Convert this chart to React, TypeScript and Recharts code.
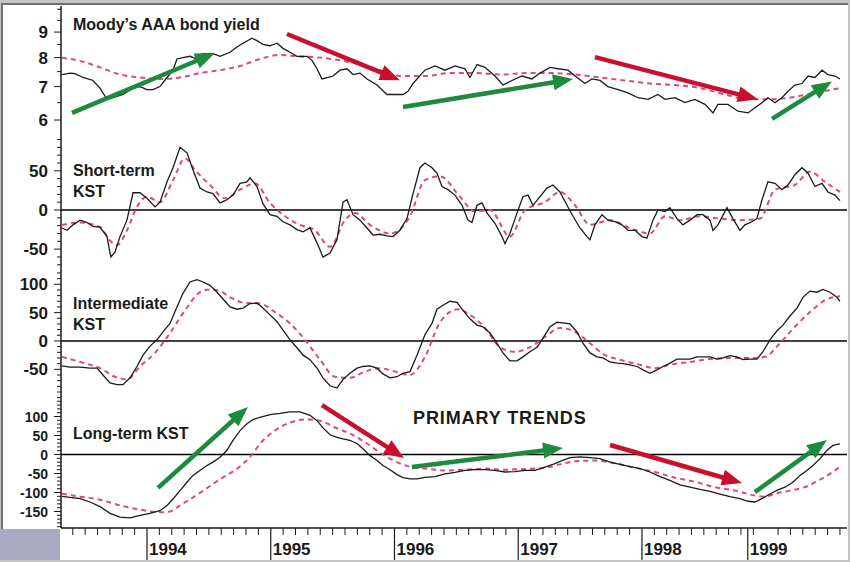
import React from 'react';
import { LineChart, Line, XAxis, YAxis, ReferenceLine } from 'recharts';

type Pt = [number, number];

// time axis in decimal years
const X_DOMAIN: [number, number] = [1993.305, 1999.657];
const YEAR_TICKS = [1994, 1995, 1996, 1997, 1998, 1998.855];
const YEAR_LABELS = ['1994', '1995', '1996', '1997', '1998', '1999'];

const YIELD_LABELS = [6, 7, 8, 9];
const SHORT_LABELS = [-50, 0, 50];
const INTER_LABELS = [-50, 0, 50, 100];
const LONG_LABELS = [-150, -100, -50, 0, 50, 100];

// Moody's AAA bond yield (%)
const yieldLine: Pt[] = [
  [1993.313, 7.4], [1993.378, 7.45], [1993.418, 7.43], [1993.483, 7.3], [1993.564, 7.2], [1993.62, 6.95],
  [1993.677, 6.6], [1993.725, 6.65], [1993.806, 6.75], [1993.887, 6.95], [1993.943, 7.0], [1994.0, 6.9],
  [1994.048, 6.9], [1994.105, 7.0], [1994.162, 7.3], [1994.21, 7.55], [1994.242, 7.95], [1994.291, 8.0],
  [1994.347, 8.05], [1994.404, 7.95], [1994.453, 8.15], [1994.533, 8.15], [1994.59, 8.05], [1994.671, 8.2],
  [1994.727, 8.4], [1994.776, 8.55], [1994.848, 8.75], [1994.889, 8.65], [1994.937, 8.5], [1994.994, 8.45],
  [1995.051, 8.55], [1995.099, 8.35], [1995.156, 8.2], [1995.212, 8.05], [1995.293, 8.05], [1995.333, 7.9],
  [1995.374, 7.6], [1995.414, 7.25], [1995.463, 7.3], [1995.503, 7.35], [1995.56, 7.55], [1995.616, 7.6],
  [1995.665, 7.4], [1995.721, 7.45], [1995.778, 7.25], [1995.859, 7.05], [1995.939, 6.75], [1996.02, 6.75],
  [1996.069, 6.75], [1996.109, 6.85], [1996.15, 7.1], [1996.246, 7.55], [1996.327, 7.7], [1996.408, 7.55],
  [1996.489, 7.7], [1996.57, 7.6], [1996.61, 7.3], [1996.667, 7.75], [1996.731, 7.65], [1996.812, 7.35],
  [1996.877, 7.05], [1996.95, 7.2], [1997.03, 7.35], [1997.111, 7.25], [1997.176, 7.45], [1997.257, 7.65],
  [1997.321, 7.6], [1997.402, 7.55], [1997.475, 7.3], [1997.539, 7.1], [1997.596, 7.25], [1997.661, 7.2],
  [1997.725, 7.0], [1997.806, 6.9], [1997.887, 6.8], [1997.968, 6.65], [1998.049, 6.6], [1998.129, 6.75],
  [1998.186, 6.6], [1998.267, 6.65], [1998.347, 6.5], [1998.428, 6.6], [1998.509, 6.45], [1998.574, 6.2],
  [1998.614, 6.45], [1998.695, 6.45], [1998.776, 6.25], [1998.857, 6.2], [1998.913, 6.35], [1998.97, 6.5],
  [1999.018, 6.65], [1999.075, 6.5], [1999.131, 6.65], [1999.18, 6.85], [1999.236, 7.05], [1999.293, 7.1],
  [1999.342, 7.35], [1999.398, 7.3], [1999.455, 7.55], [1999.503, 7.4], [1999.56, 7.35], [1999.6, 7.25],
];

const yieldAvg: Pt[] = [
  [1993.313, 8.0], [1993.483, 7.85], [1993.62, 7.65], [1993.782, 7.4], [1993.943, 7.3], [1994.105, 7.25],
  [1994.267, 7.3], [1994.428, 7.45], [1994.59, 7.55], [1994.752, 7.7], [1994.913, 7.95], [1995.075, 8.1],
  [1995.212, 8.05], [1995.398, 8.0], [1995.56, 7.9], [1995.721, 7.75], [1995.883, 7.55], [1996.044, 7.35],
  [1996.246, 7.35], [1996.449, 7.45], [1996.651, 7.45], [1996.853, 7.4], [1997.055, 7.45], [1997.257, 7.45],
  [1997.459, 7.4], [1997.661, 7.3], [1997.863, 7.2], [1998.065, 7.1], [1998.267, 7.05], [1998.469, 6.95],
  [1998.671, 6.75], [1998.873, 6.6], [1998.994, 6.6], [1999.196, 6.65], [1999.398, 6.8], [1999.6, 6.95],
];

const shortKst: Pt[] = [
  [1993.313, -23], [1993.354, -26], [1993.402, -19], [1993.459, -13], [1993.515, -16], [1993.564, -21],
  [1993.62, -22], [1993.677, -34], [1993.701, -55], [1993.709, -60], [1993.741, -54], [1993.782, -34],
  [1993.838, -13], [1993.887, 22], [1993.943, 22], [1994.0, 15], [1994.065, 4], [1994.105, 10],
  [1994.162, 36], [1994.21, 54], [1994.267, 80], [1994.323, 73], [1994.372, 51], [1994.428, 28],
  [1994.485, 23], [1994.533, 21], [1994.59, 9], [1994.646, 13], [1994.695, 19], [1994.752, 34],
  [1994.808, 36], [1994.832, 41], [1994.889, 30], [1994.937, 8], [1994.994, -6], [1995.051, -8],
  [1995.099, -15], [1995.156, -19], [1995.212, -25], [1995.261, -28], [1995.317, -23], [1995.374, -42],
  [1995.422, -60], [1995.479, -55], [1995.535, -38], [1995.584, 10], [1995.616, 13], [1995.665, -6],
  [1995.721, -13], [1995.778, -23], [1995.826, -32], [1995.883, -31], [1995.939, -33], [1995.988, -34],
  [1996.044, -26], [1996.101, -11], [1996.15, 21], [1996.206, 54], [1996.246, 60], [1996.303, 54],
  [1996.343, 47], [1996.384, 30], [1996.432, 26], [1996.489, 19], [1996.546, 6], [1996.594, -13],
  [1996.626, -16], [1996.667, 6], [1996.707, 9], [1996.748, -4], [1996.812, -17], [1996.869, -34],
  [1996.893, -43], [1996.933, -30], [1996.99, -4], [1997.038, 17], [1997.079, 19], [1997.119, 6],
  [1997.176, 17], [1997.232, 28], [1997.281, 32], [1997.337, 23], [1997.394, 6], [1997.443, -8],
  [1997.499, -23], [1997.556, -34], [1997.58, -38], [1997.62, -19], [1997.677, -6], [1997.725, -13],
  [1997.782, -15], [1997.838, -19], [1997.887, -26], [1997.943, -26], [1998.0, -34], [1998.04, -36],
  [1998.089, -13], [1998.129, 0], [1998.186, -2], [1998.226, 3], [1998.283, -11], [1998.331, -19],
  [1998.388, -13], [1998.444, -6], [1998.493, -6], [1998.55, -13], [1998.574, -26], [1998.614, -19],
  [1998.687, 3], [1998.735, -11], [1998.792, -26], [1998.832, -19], [1998.889, -15], [1998.929, -11],
  [1998.97, 13], [1999.018, 36], [1999.075, 34], [1999.131, 26], [1999.18, 32], [1999.236, 45],
  [1999.293, 54], [1999.342, 47], [1999.398, 30], [1999.455, 34], [1999.503, 23], [1999.56, 19],
  [1999.6, 12],
];

const shortAvg: Pt[] = [
  [1993.313, -19], [1993.459, -16], [1993.62, -22], [1993.701, -39], [1993.758, -45], [1993.838, -26],
  [1993.919, 4], [1994.0, 17], [1994.105, 10], [1994.21, 38], [1994.307, 66], [1994.388, 51],
  [1994.509, 32], [1994.63, 15], [1994.752, 26], [1994.873, 34], [1994.994, 9], [1995.115, -8],
  [1995.236, -19], [1995.358, -26], [1995.479, -47], [1995.6, -13], [1995.681, -4], [1995.802, -19],
  [1995.964, -30], [1996.125, -8], [1996.246, 38], [1996.368, 43], [1996.529, 17], [1996.651, -2],
  [1996.772, 0], [1996.933, -34], [1997.055, 0], [1997.216, 10], [1997.337, 23], [1997.459, 6],
  [1997.58, -19], [1997.742, -13], [1997.903, -23], [1998.065, -30], [1998.186, -8], [1998.307, -13],
  [1998.469, -8], [1998.63, -11], [1998.792, -13], [1998.954, -11], [1999.075, 26], [1999.236, 32],
  [1999.358, 49], [1999.479, 36], [1999.6, 23],
];

const interKst: Pt[] = [
  [1993.313, -44], [1993.378, -46], [1993.459, -46], [1993.539, -48], [1993.596, -48], [1993.644, -60],
  [1993.701, -74], [1993.758, -77], [1993.806, -77], [1993.863, -65], [1993.919, -45], [1993.968, -25],
  [1994.024, -9], [1994.081, 2], [1994.129, 16], [1994.186, 31], [1994.242, 60], [1994.291, 84],
  [1994.347, 104], [1994.404, 108], [1994.453, 104], [1994.509, 98], [1994.566, 86], [1994.614, 74],
  [1994.671, 60], [1994.727, 56], [1994.776, 58], [1994.832, 66], [1994.889, 67], [1994.937, 58],
  [1994.994, 46], [1995.051, 34], [1995.099, 19], [1995.156, 2], [1995.212, -12], [1995.261, -25],
  [1995.317, -33], [1995.374, -48], [1995.422, -65], [1995.479, -79], [1995.535, -83], [1995.584, -68],
  [1995.64, -57], [1995.697, -48], [1995.745, -45], [1995.802, -44], [1995.859, -48], [1995.907, -58],
  [1995.964, -65], [1996.02, -63], [1996.069, -57], [1996.125, -54], [1996.182, -25], [1996.246, 11],
  [1996.303, 31], [1996.343, 56], [1996.392, 63], [1996.449, 70], [1996.505, 68], [1996.554, 54],
  [1996.61, 39], [1996.667, 28], [1996.715, 25], [1996.772, 14], [1996.828, -4], [1996.877, -21],
  [1996.933, -35], [1996.99, -35], [1997.038, -28], [1997.095, -19], [1997.152, -11], [1997.2, 5],
  [1997.257, 25], [1997.313, 33], [1997.362, 32], [1997.418, 30], [1997.475, 16], [1997.523, -4],
  [1997.58, -21], [1997.636, -28], [1997.685, -30], [1997.742, -37], [1997.798, -39], [1997.847, -40],
  [1997.903, -42], [1997.96, -45], [1998.008, -51], [1998.065, -57], [1998.121, -51], [1998.17, -45],
  [1998.226, -39], [1998.283, -32], [1998.331, -32], [1998.388, -32], [1998.444, -28], [1998.493, -28],
  [1998.55, -28], [1998.606, -32], [1998.655, -30], [1998.711, -26], [1998.768, -28], [1998.816, -33],
  [1998.873, -32], [1998.929, -32], [1998.978, -19], [1999.034, 2], [1999.091, 18], [1999.139, 28],
  [1999.196, 44], [1999.253, 58], [1999.301, 77], [1999.358, 88], [1999.414, 86], [1999.463, 91],
  [1999.519, 86], [1999.576, 77], [1999.6, 70],
];

const interAvg: Pt[] = [
  [1993.313, -28], [1993.459, -37], [1993.62, -48], [1993.741, -63], [1993.838, -68], [1993.943, -45],
  [1994.065, -21], [1994.186, 14], [1994.307, 54], [1994.428, 86], [1994.509, 91], [1994.59, 88],
  [1994.671, 77], [1994.792, 67], [1994.913, 66], [1995.034, 51], [1995.156, 31], [1995.277, 2],
  [1995.398, -33], [1995.519, -63], [1995.64, -65], [1995.762, -54], [1995.883, -48], [1996.004, -54],
  [1996.125, -60], [1996.246, -28], [1996.368, 33], [1996.513, 56], [1996.61, 46], [1996.731, 23],
  [1996.853, -11], [1996.974, -19], [1997.095, -11], [1997.216, 7], [1997.337, 23], [1997.459, 16],
  [1997.58, -4], [1997.701, -25], [1997.822, -33], [1997.984, -42], [1998.105, -48], [1998.226, -42],
  [1998.388, -37], [1998.55, -32], [1998.711, -30], [1998.873, -30], [1998.994, -28], [1999.115, -4],
  [1999.236, 25], [1999.358, 51], [1999.479, 72], [1999.6, 79],
];

const longKst: Pt[] = [
  [1993.313, -110], [1993.378, -113], [1993.459, -116], [1993.539, -125], [1993.62, -137], [1993.701, -155],
  [1993.782, -165], [1993.863, -167], [1993.943, -160], [1994.024, -155], [1994.105, -148], [1994.162, -134],
  [1994.21, -117], [1994.267, -95], [1994.323, -73], [1994.372, -55], [1994.428, -42], [1994.485, -29],
  [1994.533, -20], [1994.59, -7], [1994.646, 11], [1994.695, 37], [1994.752, 63], [1994.808, 81],
  [1994.857, 92], [1994.913, 98], [1994.994, 105], [1995.075, 108], [1995.156, 112], [1995.236, 112],
  [1995.317, 103], [1995.374, 89], [1995.422, 70], [1995.479, 52], [1995.535, 45], [1995.584, 41],
  [1995.64, 37], [1995.697, 29], [1995.745, 15], [1995.802, -3], [1995.859, -16], [1995.907, -29],
  [1995.964, -40], [1996.02, -53], [1996.069, -61], [1996.125, -64], [1996.182, -64], [1996.246, -60],
  [1996.327, -58], [1996.408, -51], [1996.489, -47], [1996.57, -42], [1996.651, -40], [1996.731, -40],
  [1996.812, -42], [1996.893, -46], [1996.974, -45], [1997.055, -42], [1997.135, -42], [1997.216, -33],
  [1997.297, -24], [1997.354, -16], [1997.418, -8], [1997.499, -6], [1997.58, -8], [1997.661, -11],
  [1997.742, -20], [1997.822, -26], [1997.903, -32], [1997.984, -37], [1998.065, -46], [1998.146, -58],
  [1998.226, -68], [1998.307, -80], [1998.388, -86], [1998.469, -92], [1998.55, -97], [1998.63, -104],
  [1998.711, -111], [1998.792, -116], [1998.857, -123], [1998.913, -125], [1998.97, -116], [1999.034, -104],
  [1999.099, -93], [1999.156, -86], [1999.22, -73], [1999.277, -55], [1999.333, -42], [1999.382, -29],
  [1999.439, -11], [1999.495, 11], [1999.544, 24], [1999.6, 28],
];

const longAvg: Pt[] = [
  [1993.313, -103], [1993.459, -111], [1993.62, -119], [1993.782, -134], [1993.943, -145], [1994.105, -152],
  [1994.186, -150], [1994.267, -134], [1994.428, -101], [1994.59, -65], [1994.752, -31], [1994.832, -7],
  [1994.913, 28], [1995.034, 63], [1995.156, 84], [1995.277, 92], [1995.398, 89], [1995.519, 71],
  [1995.64, 55], [1995.762, 32], [1995.883, 5], [1996.004, -18], [1996.125, -32], [1996.246, -37],
  [1996.408, -42], [1996.57, -40], [1996.731, -37], [1996.893, -40], [1997.055, -38], [1997.216, -35],
  [1997.337, -26], [1997.459, -18], [1997.62, -16], [1997.782, -23], [1997.943, -35], [1998.105, -46],
  [1998.267, -61], [1998.428, -72], [1998.59, -86], [1998.752, -95], [1998.913, -108], [1998.994, -111],
  [1999.075, -103], [1999.196, -95], [1999.317, -86], [1999.439, -66], [1999.56, -42], [1999.6, -32],
];

type Arrow = { from: Pt; to: Pt; up: boolean };

const yieldArrows: Arrow[] = [
  { from: [1993.394, 6.2], to: [1994.55, 8.17], up: true },
  { from: [1995.131, 8.92], to: [1996.044, 7.21], up: false },
  { from: [1996.069, 6.37], to: [1997.443, 7.25], up: true },
  { from: [1997.62, 8.02], to: [1998.937, 6.6], up: false },
  { from: [1999.051, 6.03], to: [1999.535, 7.17], up: true },
];

const longArrows: Arrow[] = [
  { from: [1994.089, -88], to: [1994.816, 125], up: true },
  { from: [1995.414, 130], to: [1996.077, -9], up: false },
  { from: [1996.141, -33], to: [1997.362, 17], up: true },
  { from: [1997.742, 25], to: [1998.808, -75], up: false },
  { from: [1998.913, -99], to: [1999.495, 38], up: true },
];

const FONT = '"Liberation Sans", Arial, sans-serif';
const INK = '#1a1a1a';
const AVG_COLOR = '#dc4a78';
const UP_COLOR = '#1d8a3e';
const DOWN_COLOR = '#c8102e';

const rows = (pts: Pt[]) => pts.map(([t, v]) => ({ t, v }));

const steps = (lo: number, hi: number, step: number) => {
  const out: number[] = [];
  for (let v = lo; v <= hi + 1e-9; v += step) out.push(Math.round(v * 100) / 100);
  return out;
};

const minorYears = () => {
  const out: number[] = [];
  for (let y = 1993; y <= 1999; y++) {
    for (let k = 1; k < 10; k++) {
      const t = y + k / 10;
      if (t < X_DOMAIN[0] || t > X_DOMAIN[1]) continue;
      if (YEAR_TICKS.some((yt) => Math.abs(yt - t) < 0.04)) continue;
      out.push(t);
    }
  }
  return out;
};

const yTick = (labels: number[], fontSize: number) => (props: any) => {
  const { x, y, payload } = props;
  const major = labels.includes(payload.value);
  return (
    <g>
      <line x1={x - (major ? 7 : 4)} x2={x} y1={y} y2={y} stroke={INK} strokeWidth={1} />
      {major && (
        <text x={x - 13} y={y} dy="0.36em" textAnchor="end" fontFamily={FONT} fontWeight="bold"
          fontSize={fontSize} fill={INK}>
          {payload.value}
        </text>
      )}
    </g>
  );
};

const XTick = (props: any) => {
  const { x, y, payload } = props;
  const i = YEAR_TICKS.indexOf(payload.value);
  if (i < 0) return <line x1={x} x2={x} y1={y} y2={y + 7} stroke={INK} strokeWidth={1} />;
  return (
    <g>
      <line x1={x} x2={x} y1={y} y2={y + 32} stroke={INK} strokeWidth={1.2} />
      <text x={x + 2} y={y + 27} fontFamily={FONT} fontWeight="bold" fontSize={17} fill={INK}>
        {YEAR_LABELS[i]}
      </text>
    </g>
  );
};

const arrowShape = (color: string) => (props: any) => {
  const { x1, y1, x2, y2 } = props;
  const dx = x2 - x1;
  const dy = y2 - y1;
  const len = Math.hypot(dx, dy) || 1;
  const ux = dx / len;
  const uy = dy / len;
  const head = 20;
  const half = 8;
  const bx = x2 - ux * head;
  const by = y2 - uy * head;
  return (
    <g>
      <line x1={x1} y1={y1} x2={bx + ux * 2} y2={by + uy * 2} stroke={color} strokeWidth={4.5} />
      <polygon
        points={`${x2},${y2} ${bx - uy * half},${by + ux * half} ${bx + uy * half},${by - ux * half}`}
        fill={color}
      />
    </g>
  );
};

interface PanelProps {
  top: number;
  height: number;
  main: Pt[];
  avg: Pt[];
  yDomain: [number, number];
  yTicks: number[];
  yLabels: number[];
  fontSize?: number;
  log?: boolean;
  zero?: boolean;
  arrows?: Arrow[];
  xAxis?: boolean;
}

const Panel: React.FC<PanelProps> = ({
  top, height, main, avg, yDomain, yTicks, yLabels, fontSize = 17, log, zero, arrows = [], xAxis,
}) => (
  <div style={{ position: 'absolute', left: 0, top }}>
    <LineChart width={850} height={height} margin={{ top: 0, right: 3, bottom: 0, left: 0 }}>
      <XAxis
        type="number"
        dataKey="t"
        domain={X_DOMAIN}
        allowDataOverflow
        hide={!xAxis}
        height={xAxis ? 32 : 0}
        ticks={xAxis ? [...YEAR_TICKS, ...minorYears()] : undefined}
        interval={0}
        tick={xAxis ? XTick : false}
        tickLine={false}
        tickSize={0}
        tickMargin={0}
        axisLine={{ stroke: INK, strokeWidth: 1.5 }}
      />
      <YAxis
        type="number"
        width={61}
        scale={log ? 'log' : 'linear'}
        domain={yDomain}
        allowDataOverflow
        ticks={yTicks}
        interval={0}
        tick={yTick(yLabels, fontSize)}
        tickLine={false}
        tickSize={0}
        tickMargin={0}
        axisLine={{ stroke: INK, strokeWidth: 1.5 }}
      />
      {zero && <ReferenceLine y={0} stroke="#000" strokeWidth={1.5} />}
      <Line data={rows(avg)} dataKey="v" type="monotone" stroke={AVG_COLOR} strokeWidth={2}
        strokeDasharray="5 4" dot={false} isAnimationActive={false} />
      <Line data={rows(main)} dataKey="v" type="linear" stroke={INK} strokeWidth={1.3}
        dot={false} isAnimationActive={false} />
      {arrows.map((a, i) => (
        <ReferenceLine
          key={i}
          segment={[{ x: a.from[0], y: a.from[1] }, { x: a.to[0], y: a.to[1] }]}
          shape={arrowShape(a.up ? UP_COLOR : DOWN_COLOR)}
        />
      ))}
    </LineChart>
  </div>
);

const titleStyle = { fontFamily: FONT, fontWeight: 'bold' as const, fontSize: 16, fill: INK };

export default function App() {
  return (
    <div style={{ position: 'absolute', left: 0, top: 0, width: 850, height: 562, background: '#c4c4c4' }}>
      <div style={{
        position: 'absolute', left: 1, top: 3, width: 847, height: 557, background: '#fff',
        borderLeft: '2px solid #707070', borderTop: '2px solid #707070', boxSizing: 'border-box',
      }} />
      <div style={{ position: 'absolute', left: 0, top: 529, width: 60, height: 31, background: '#a9a9c2' }} />

      <Panel top={6} height={130} main={yieldLine} avg={yieldAvg} yDomain={[5.574, 10.15]}
        yTicks={steps(6, 10, 0.5)} yLabels={YIELD_LABELS} log arrows={yieldArrows} />
      <Panel top={136} height={132} main={shortKst} avg={shortAvg} yDomain={[-74.1, 94.5]}
        yTicks={steps(-70, 90, 10)} yLabels={SHORT_LABELS} zero />
      <Panel top={268} height={132} main={interKst} avg={interAvg} yDomain={[-104.1, 128.7]}
        yTicks={steps(-100, 120, 10)} yLabels={INTER_LABELS} zero />
      <Panel top={400} height={160} main={longKst} avg={longAvg} yDomain={[-193.4, 143.4]}
        yTicks={steps(-190, 140, 10)} yLabels={LONG_LABELS} fontSize={14} zero arrows={longArrows} xAxis />

      <svg width={850} height={562} style={{ position: 'absolute', left: 0, top: 0, pointerEvents: 'none' }}>
        <text x={73} y={30} {...titleStyle}>Moody’s AAA bond yield</text>
        <text x={73} y={176} {...titleStyle}>Short-term</text>
        <text x={73} y={197} {...titleStyle}>KST</text>
        <text x={73} y={309} {...titleStyle}>Intermediate</text>
        <text x={73} y={330} {...titleStyle}>KST</text>
        <text x={73} y={439} {...titleStyle}>Long-term KST</text>
        <text x={413} y={424} {...titleStyle} fontSize={18} letterSpacing={0.9}>PRIMARY TRENDS</text>
      </svg>
    </div>
  );
}
